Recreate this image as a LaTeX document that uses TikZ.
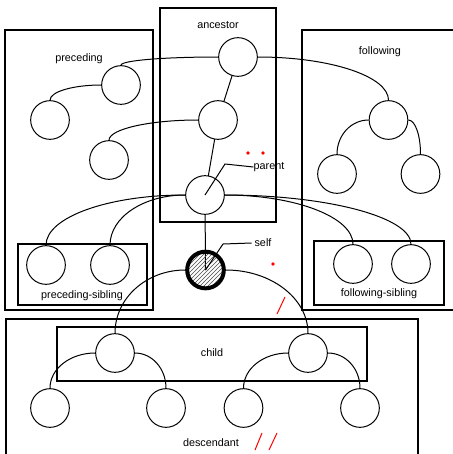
\documentclass[tikz,border=0pt]{standalone}
\usepackage{fontspec}
\setmainfont{Liberation Sans}
\usetikzlibrary{patterns}
\begin{document}
\begin{tikzpicture}[x=0.75pt,y=-0.75pt,
  box/.style={draw=black,line width=1pt},
  nd/.style={circle,draw=black,fill=white,line width=0.75pt,minimum size=29pt,inner sep=0pt},
  selfnd/.style={circle,draw=black,line width=3pt,minimum size=27.5pt,inner sep=0pt,pattern=north east lines,pattern color=black!70},
  con/.style={draw=black,line width=0.75pt},
  lbl/.style={font=\fontsize{8.1}{9.7}\selectfont,inner sep=0pt},
  redmark/.style={draw=red,line width=0.75pt},
  reddot/.style={fill=red}]
\useasboundingbox (0,0) rectangle (453,454);
\clip (0,0) rectangle (453,454);
\fill[white] (0,0) rectangle (453,454);
% boxes
\draw[box] (160,8) rectangle (276,222);
\draw[box] (5,30) rectangle (153,310);
\draw[box] (302,30) rectangle (470,310);
\draw[box] (18,244) rectangle (147,305);
\draw[box] (314,241) rectangle (444,305);
\draw[box] (6,319) rectangle (418,480);
\draw[box] (57,327) rectangle (367,381);
% labels
\node[lbl] (tanc) at (218,25) {ancestor};
\node[lbl] (tpre) at (79,59) {preceding};
\node[lbl] (tfol) at (380,52) {following};
\node[lbl] (tps) at (82,296) {preceding-sibling};
\node[lbl] (tfs) at (379,294) {following-sibling};
\node[lbl] (tchild) at (212,353) {child};
\node[lbl] (tdesc) at (211,443) {descendant};
\node[lbl] (tpar) at (269,167) {parent};
\node[lbl] (tself) at (263,243) {self};
% straight connectors (drawn below nodes)
\coordinate (a1c) at (238,57);
\coordinate (a2c) at (218,120);
\coordinate (parc) at (205,195);
\coordinate (selfc) at (205.5,270);
\draw[con] (a1c) -- (a2c);
\draw[con] (a2c) -- (parc);
\draw[con] (parc) -- (selfc);
% nodes
\node[nd] (a1) at (a1c) {};
\node[nd] (a2) at (a2c) {};
\node[nd] (par) at (parc) {};
\node[selfnd] (self) at (selfc) {};
\node[nd] (pc1) at (121,85) {};
\node[nd] (pc2) at (50,120) {};
\node[nd] (pc3) at (109,160) {};
\node[nd] (f1) at (388.5,120) {};
\node[nd] (f2) at (337,174) {};
\node[nd] (f3) at (420.5,174) {};
\node[nd] (ps1) at (46,265) {};
\node[nd] (ps2) at (110,265) {};
\node[nd] (fs1) at (353,264) {};
\node[nd] (fs2) at (411,264) {};
\node[nd] (c1) at (115,353) {};
\node[nd] (c2) at (308,353) {};
\node[nd] (d1) at (50,408) {};
\node[nd] (d2) at (166,408) {};
\node[nd] (d3) at (243.5,408) {};
\node[nd] (d4) at (360,408) {};
% curved connectors
\draw[con] (a1.west) .. controls +(-54,0) and +(0,-4.7) .. (pc1.north);
\draw[con] (pc1.west) .. controls +(-28,0) and +(0,-8.5) .. (pc2.north);
\draw[con] (a2.west) .. controls +(-49,0) and +(0,-11) .. (pc3.north);
\draw[con] (a1.east) .. controls +(72,0) and +(0,-24) .. (f1.north);
\draw[con] (f1.west) .. controls +(-17.6,0) and +(0,-19) .. (f2.north);
\draw[con] (f1.east) .. controls +(6.9,0) and +(0,-19) .. (f3.north);
\draw[con] (par.west) .. controls +(-77,0) and +(0,-28) .. (ps1.north);
\draw[con] (par.west) .. controls +(-41.5,0) and +(0,-28) .. (ps2.north);
\draw[con] (par.east) .. controls +(70.7,0) and +(0,-27) .. (fs1.north);
\draw[con] (par.east) .. controls +(102.6,0) and +(0,-27) .. (fs2.north);
\draw[con] (self.west) .. controls +(-38.8,0) and +(0,-35) .. (c1.north);
\draw[con] (self.east) .. controls +(45,0) and +(0,-35) .. (c2.north);
\draw[con] (c1.west) .. controls +(-25,0) and +(0,-19.5) .. (d1.north);
\draw[con] (c1.east) .. controls +(17.3,0) and +(0,-19.5) .. (d2.north);
\draw[con] (c2.west) .. controls +(-24.75,0) and +(0,-19.5) .. (d3.north);
\draw[con] (c2.east) .. controls +(17.9,0) and +(0,-19.5) .. (d4.north);
% leader lines
\coordinate (pb) at (225,164);
\coordinate (sb) at (223,244);
\draw[con] (par.center) -- (pb) -- (tpar.west);
\draw[con] (self.center) -- (sb) -- ([xshift=-2pt]tself.west);
% red marks
\fill[reddot] (248,153) circle (1.8);
\fill[reddot] (263,153) circle (1.8);
\fill[reddot] (273,264) circle (1.8);
\coordinate (r1a) at (285,297); \coordinate (r1b) at (277,314);
\coordinate (r2a) at (262,433); \coordinate (r2b) at (255,450);
\coordinate (r3a) at (277,433); \coordinate (r3b) at (269,450);
\draw[redmark] (r1a) -- (r1b);
\draw[redmark] (r2a) -- (r2b);
\draw[redmark] (r3a) -- (r3b);
\end{tikzpicture}
\end{document}
